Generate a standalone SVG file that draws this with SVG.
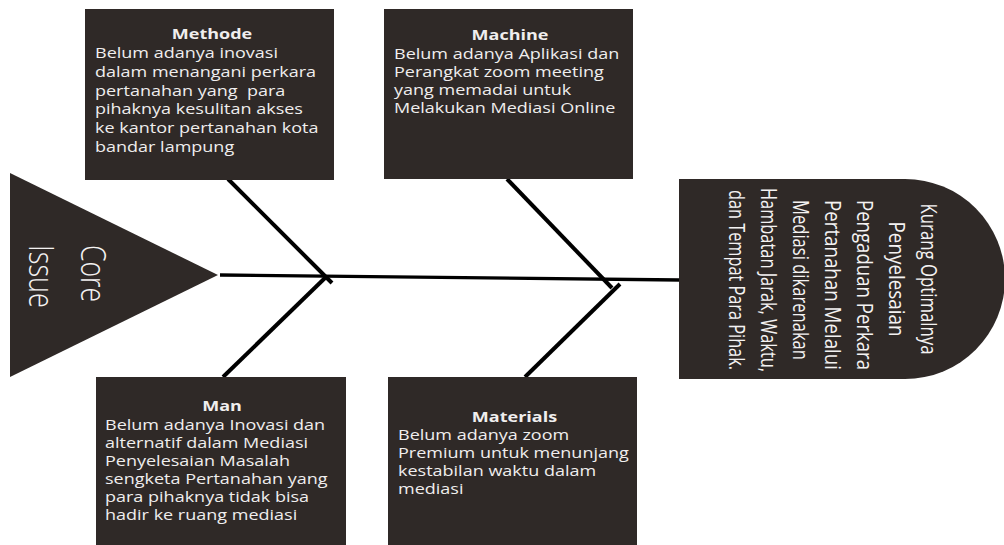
<svg xmlns="http://www.w3.org/2000/svg" width="1004" height="545" viewBox="0 0 1004 545">
<style>
.box{fill:#2f2927}
.t{font-family:"Open Sans","Liberation Sans",sans-serif;font-size:14.3px;fill:#f0eeee}
.h{font-weight:bold;text-anchor:middle}
.v{font-family:"Open Sans","Liberation Sans",sans-serif;fill:#f4f2f2}
.bone{stroke:#000;stroke-width:4;fill:none;stroke-linecap:butt}
.spine{stroke:#000;stroke-width:3.3;fill:none}
</style>
<rect width="1004" height="545" fill="#fff"/>
<g id="connectors">
<line class="spine" x1="220" y1="275" x2="680" y2="280"/>
<line class="bone" x1="228" y1="179" x2="332" y2="283"/>
<line class="bone" x1="223" y1="377" x2="326" y2="277"/>
<line class="bone" x1="507" y1="179" x2="612" y2="288"/>
<line class="bone" x1="525" y1="377" x2="620" y2="284"/>
</g>
<g id="core-issue">
<polygon class="box" points="10,173 218,275 10,377"/>
<g class="v" font-size="27" font-weight="300">
<text transform="translate(81,245) rotate(90) scale(1,1.28)" textLength="57" lengthAdjust="spacingAndGlyphs">Core</text>
<text transform="translate(29,245) rotate(90) scale(1,1.28)" textLength="63" lengthAdjust="spacingAndGlyphs">Issue</text>
</g>
</g>
<g id="methode">
<rect class="box" x="85" y="9" width="249" height="171"/>
<text class="t h" transform="translate(212,39) scale(1.26,1)">Methode</text>
<g class="t">
<text transform="translate(95,58.3) scale(1.26,1)">Belum adanya inovasi</text>
<text transform="translate(95,77) scale(1.26,1)">dalam menangani perkara</text>
<text transform="translate(95,95.7) scale(1.26,1)" xml:space="preserve">pertanahan yang  para</text>
<text transform="translate(95,114.4) scale(1.26,1)">pihaknya kesulitan akses</text>
<text transform="translate(95,133.1) scale(1.26,1)">ke kantor pertanahan kota</text>
<text transform="translate(95,151.8) scale(1.26,1)">bandar lampung</text>
</g>
</g>
<g id="machine">
<rect class="box" x="384" y="9" width="249" height="170"/>
<text class="t h" transform="translate(510,40) scale(1.26,1)">Machine</text>
<g class="t">
<text transform="translate(394,59) scale(1.26,1)">Belum adanya Aplikasi dan</text>
<text transform="translate(394,77.1) scale(1.26,1)">Perangkat zoom meeting</text>
<text transform="translate(394,95.2) scale(1.26,1)">yang memadai untuk</text>
<text transform="translate(394,113.3) scale(1.26,1)">Melakukan Mediasi Online</text>
</g>
</g>
<g id="man">
<rect class="box" x="96" y="377" width="250" height="170"/>
<text class="t h" transform="translate(222,411) scale(1.26,1)">Man</text>
<g class="t">
<text transform="translate(105,430) scale(1.26,1)">Belum adanya Inovasi dan</text>
<text transform="translate(105,448) scale(1.26,1)">alternatif dalam Mediasi</text>
<text transform="translate(105,466) scale(1.26,1)">Penyelesaian Masalah</text>
<text transform="translate(105,484) scale(1.26,1)">sengketa Pertanahan yang</text>
<text transform="translate(105,502) scale(1.26,1)">para pihaknya tidak bisa</text>
<text transform="translate(105,520) scale(1.26,1)">hadir ke ruang mediasi</text>
</g>
</g>
<g id="materials">
<rect class="box" x="388" y="377" width="249" height="170"/>
<text class="t h" transform="translate(514.5,422) scale(1.26,1)">Materials</text>
<g class="t">
<text transform="translate(398,440) scale(1.26,1)">Belum adanya zoom</text>
<text transform="translate(398,458) scale(1.26,1)">Premium untuk menunjang</text>
<text transform="translate(398,476) scale(1.26,1)">kestabilan waktu dalam</text>
<text transform="translate(398,494) scale(1.26,1)">mediasi</text>
</g>
</g>
<g id="effect">
<path class="box" d="M679,179 H905 A100,100 0 0 1 905,379 H679 Z"/>
<g class="v" font-size="17" text-anchor="middle">
<text transform="translate(921,279) rotate(90) scale(1,1.28)" textLength="151" lengthAdjust="spacingAndGlyphs">Kurang Optimalnya</text>
<text transform="translate(889,279) rotate(90) scale(1,1.28)" textLength="115" lengthAdjust="spacingAndGlyphs">Penyelesaian</text>
<text transform="translate(857,285) rotate(90) scale(1,1.28)" textLength="170" lengthAdjust="spacingAndGlyphs">Pengaduan Perkara</text>
<text transform="translate(825,285) rotate(90) scale(1,1.28)" textLength="170" lengthAdjust="spacingAndGlyphs">Pertanahan Melalui</text>
<text transform="translate(793,280) rotate(90) scale(1,1.28)" textLength="160" lengthAdjust="spacingAndGlyphs">Mediasi dikarenakan</text>
<text transform="translate(761,280) rotate(90) scale(1,1.28)" textLength="184" lengthAdjust="spacingAndGlyphs">Hambatan Jarak, Waktu,</text>
<text transform="translate(729,280) rotate(90) scale(1,1.28)" textLength="180" lengthAdjust="spacingAndGlyphs">dan Tempat Para Pihak.</text>
</g>
</g>
</svg>
